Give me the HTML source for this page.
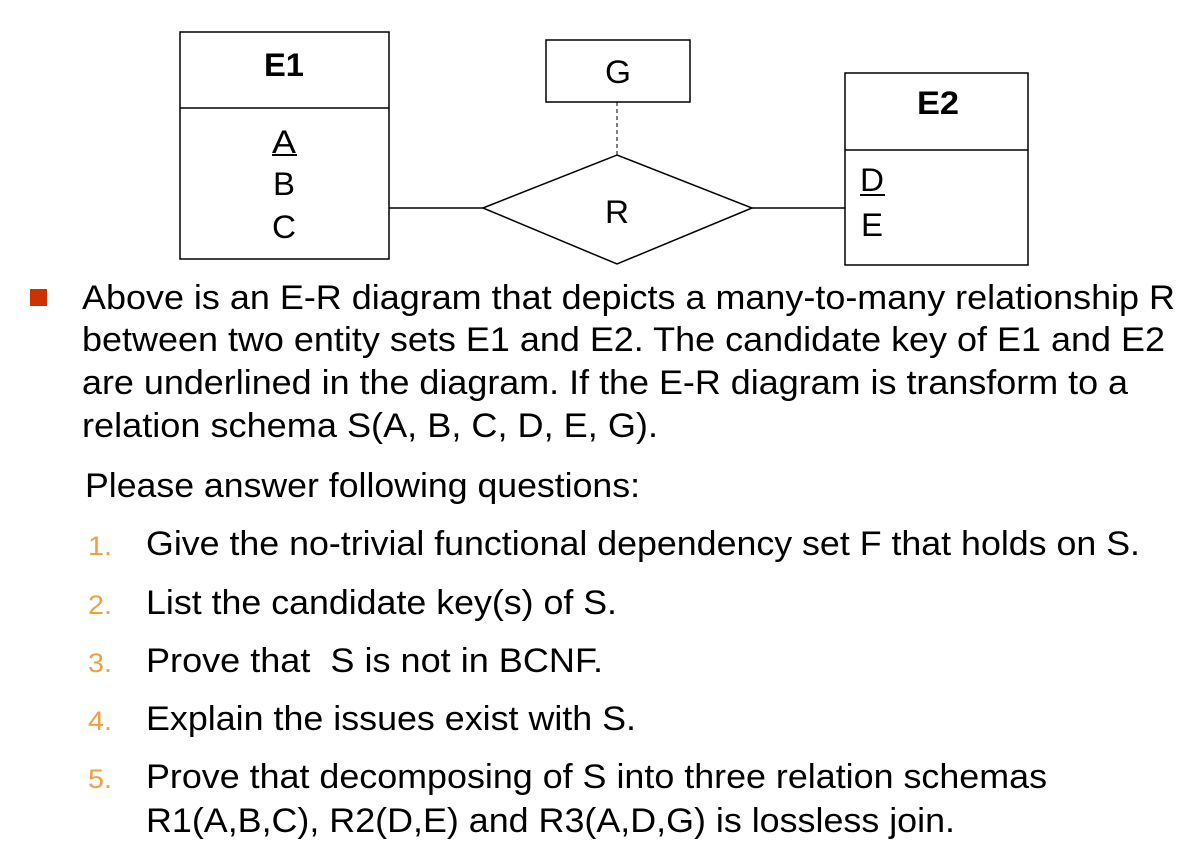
<!DOCTYPE html>
<html><head><style>body{margin:0;background:#fff}svg{display:block}</style></head><body>
<svg width="1201" height="859" xmlns="http://www.w3.org/2000/svg" font-family="Liberation Sans, Arial, sans-serif">
<g fill="none" stroke="#000" stroke-width="1.5">
<rect x="180" y="32" width="209" height="227"/>
<line x1="180" y1="108" x2="389" y2="108"/>
<rect x="546" y="40" width="144" height="62"/>
<rect x="845" y="73" width="183" height="192"/>
<line x1="845" y1="150" x2="1028" y2="150"/>
<polygon points="483,208 617,155 752,208 617,264"/>
<line x1="389" y1="208" x2="483" y2="208"/>
<line x1="752" y1="208" x2="845" y2="208"/>
<line x1="617" y1="102" x2="617" y2="155" stroke-dasharray="4,3" stroke-width="1"/>
<line x1="272" y1="155" x2="297" y2="155" stroke-width="2"/>
<line x1="860" y1="195" x2="885" y2="195" stroke-width="2"/>
</g>
<g font-size="32" text-anchor="middle" fill="#000">
<text x="284" y="76" font-weight="bold" textLength="40" lengthAdjust="spacingAndGlyphs">E1</text>
<text x="618" y="83" textLength="26" lengthAdjust="spacingAndGlyphs">G</text>
<text x="938" y="114" font-weight="bold" textLength="42" lengthAdjust="spacingAndGlyphs">E2</text>
<text x="284" y="153" textLength="24" lengthAdjust="spacingAndGlyphs">A</text>
<text x="284" y="195" textLength="22" lengthAdjust="spacingAndGlyphs">B</text>
<text x="284" y="238" textLength="24" lengthAdjust="spacingAndGlyphs">C</text>
<text x="872" y="191" textLength="24" lengthAdjust="spacingAndGlyphs">D</text>
<text x="872" y="236" textLength="22" lengthAdjust="spacingAndGlyphs">E</text>
<text x="617" y="223" textLength="24" lengthAdjust="spacingAndGlyphs">R</text>
</g>
<rect x="30" y="289" width="17" height="17" fill="#cc3300"/>
<g font-size="34" fill="#000">
<text x="82" y="309" textLength="1093" lengthAdjust="spacingAndGlyphs">Above is an E-R diagram that depicts a many-to-many relationship R</text>
<text x="82" y="351" textLength="1083" lengthAdjust="spacingAndGlyphs">between two entity sets E1 and E2. The candidate key of E1 and E2</text>
<text x="82" y="394" textLength="1046" lengthAdjust="spacingAndGlyphs">are underlined in the diagram. If the E-R diagram is transform to a</text>
<text x="82" y="437" textLength="576" lengthAdjust="spacingAndGlyphs">relation schema S(A, B, C, D, E, G).</text>
<text x="85" y="497" textLength="555" lengthAdjust="spacingAndGlyphs">Please answer following questions:</text>
<text x="146" y="555" textLength="994" lengthAdjust="spacingAndGlyphs">Give the no-trivial functional dependency set F that holds on S.</text>
<text x="146" y="614" textLength="471" lengthAdjust="spacingAndGlyphs">List the candidate key(s) of S.</text>
<text x="146" y="672" textLength="457" lengthAdjust="spacingAndGlyphs" xml:space="preserve">Prove that  S is not in BCNF.</text>
<text x="146" y="730" textLength="490" lengthAdjust="spacingAndGlyphs">Explain the issues exist with S.</text>
<text x="146" y="788" textLength="901" lengthAdjust="spacingAndGlyphs">Prove that decomposing of S into three relation schemas</text>
<text x="146" y="832" textLength="809" lengthAdjust="spacingAndGlyphs">R1(A,B,C), R2(D,E) and R3(A,D,G) is lossless join.</text>
</g>
<g font-size="27" fill="#f0a040">
<text x="88" y="555" textLength="24" lengthAdjust="spacingAndGlyphs">1.</text>
<text x="88" y="614" textLength="24" lengthAdjust="spacingAndGlyphs">2.</text>
<text x="88" y="672" textLength="24" lengthAdjust="spacingAndGlyphs">3.</text>
<text x="88" y="730" textLength="24" lengthAdjust="spacingAndGlyphs">4.</text>
<text x="88" y="788" textLength="24" lengthAdjust="spacingAndGlyphs">5.</text>
</g>
</svg>
</body></html>
